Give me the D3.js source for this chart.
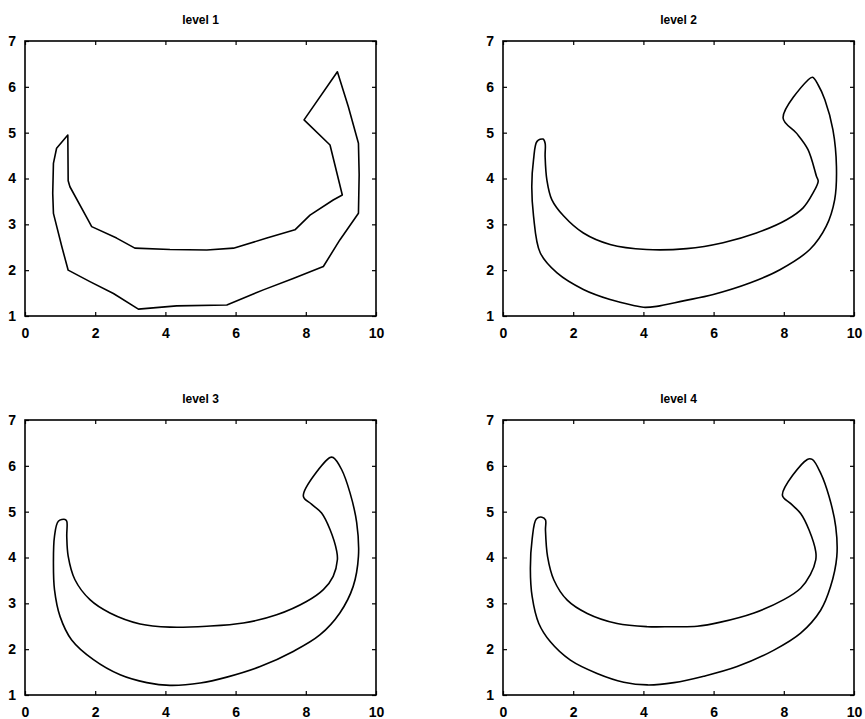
<!DOCTYPE html>
<html>
<head>
<meta charset="utf-8">
<script src="https://cdn.jsdelivr.net/npm/d3@7"></script>
<style>
  body { margin: 0; background: #fff; }
  svg text { font-family: "Liberation Sans", Arial, sans-serif; fill: #000; }
</style>
</head>
<body>
<div id="chart"></div>
<script>
// outline points [x, y], traced clockwise from the left tip
const level1 = [
  [1.22, 4.95], [0.90, 4.66], [0.81, 4.33], [0.79, 3.68], [0.81, 3.24], [1.05, 2.51],
  [1.23, 2.00], [1.85, 1.75], [2.52, 1.49], [3.23, 1.15], [4.32, 1.22], [5.75, 1.24],
  [6.79, 1.57], [7.64, 1.82], [8.50, 2.08], [8.97, 2.66], [9.50, 3.24], [9.52, 4.08],
  [9.50, 4.77], [9.21, 5.57], [8.90, 6.33], [7.95, 5.28], [8.69, 4.73], [9.04, 3.64],
  [8.78, 3.53], [8.12, 3.20], [7.69, 2.88], [6.89, 2.70], [5.94, 2.48], [5.18, 2.44],
  [4.13, 2.45], [3.13, 2.48], [2.61, 2.70], [1.90, 2.95], [1.80, 3.09], [1.28, 3.82],
  [1.23, 3.95]
];
const level2 = [
  [1.14, 4.86], [0.97, 4.81], [0.87, 4.41], [0.82, 3.83], [0.87, 3.18], [1.06, 2.38],
  [1.54, 1.94], [2.29, 1.58], [3.05, 1.36], [3.72, 1.23], [4.00, 1.19], [4.38, 1.21],
  [5.14, 1.33], [5.99, 1.47], [7.03, 1.72], [7.89, 2.01], [8.74, 2.45], [9.21, 2.96],
  [9.45, 3.54], [9.50, 4.26], [9.40, 5.06], [9.17, 5.72], [8.98, 6.04], [8.82, 6.21],
  [8.69, 6.15], [7.98, 5.32], [8.36, 4.99], [8.69, 4.63], [8.93, 4.05], [8.98, 3.94],
  [8.83, 3.68], [8.55, 3.36], [8.08, 3.10], [7.22, 2.81], [6.27, 2.60], [5.23, 2.47],
  [4.09, 2.45], [3.05, 2.56], [2.29, 2.81], [1.73, 3.18], [1.39, 3.54], [1.25, 3.97],
  [1.20, 4.48], [1.20, 4.77]
];
const level3 = [
  [1.14, 4.83], [0.95, 4.79], [0.84, 4.46], [0.81, 3.88], [0.84, 3.30], [1.00, 2.71],
  [1.33, 2.20], [1.95, 1.77], [2.71, 1.44], [3.47, 1.27], [4.13, 1.21], [4.99, 1.26],
  [5.75, 1.39], [6.70, 1.62], [7.64, 1.95], [8.40, 2.31], [8.97, 2.79], [9.35, 3.37],
  [9.50, 4.03], [9.45, 4.76], [9.26, 5.41], [9.02, 5.92], [8.78, 6.18], [8.69, 6.18],
  [7.93, 5.34], [8.17, 5.16], [8.45, 4.97], [8.69, 4.61], [8.88, 4.14], [8.90, 3.95],
  [8.78, 3.59], [8.50, 3.30], [8.02, 3.04], [7.17, 2.75], [6.22, 2.57], [5.18, 2.50],
  [4.13, 2.48], [3.28, 2.55], [2.42, 2.79], [1.85, 3.08], [1.42, 3.52], [1.23, 4.03],
  [1.19, 4.46], [1.19, 4.79]
];
const level4 = [
  [1.11, 4.88], [0.95, 4.84], [0.83, 4.40], [0.78, 3.75], [0.83, 3.15], [1.02, 2.56],
  [1.35, 2.16], [1.92, 1.76], [2.68, 1.47], [3.44, 1.28], [4.11, 1.22], [4.87, 1.27],
  [5.72, 1.41], [6.67, 1.62], [7.72, 1.98], [8.48, 2.35], [9.05, 2.85], [9.33, 3.36],
  [9.51, 4.02], [9.48, 4.67], [9.29, 5.33], [9.05, 5.84], [8.81, 6.14], [8.67, 6.14],
  [7.96, 5.36], [8.19, 5.18], [8.48, 4.96], [8.72, 4.60], [8.91, 4.13], [8.91, 3.95],
  [8.76, 3.63], [8.48, 3.33], [8.00, 3.08], [7.15, 2.79], [6.20, 2.59], [5.53, 2.50],
  [4.80, 2.49], [4.11, 2.49], [3.25, 2.56], [2.40, 2.78], [1.83, 3.07], [1.45, 3.51],
  [1.27, 4.02], [1.21, 4.60], [1.21, 4.82]
];

const titles = ["level 1", "level 2", "level 3", "level 4"];
const xTicks = [0, 2, 4, 6, 8, 10];
const yTicks = [1, 2, 3, 4, 5, 6, 7];

const panels = [
  { title: titles[0], data: level1, curve: d3.curveLinearClosed },
  { title: titles[1], data: level2, curve: d3.curveCatmullRomClosed.alpha(0.5) },
  { title: titles[2], data: level3, curve: d3.curveCatmullRomClosed.alpha(0.5) },
  { title: titles[3], data: level4, curve: d3.curveCatmullRomClosed.alpha(0.5) }
];

// 2x2 grid of axes (matlab subplot layout)
const W = 865, H = 719;
const plotW = 351, plotH = 275;
const lefts = [25, 503];
const tops = [41, 420];
const fmt = d3.format("d");

const svg = d3.select("#chart").append("svg")
  .attr("width", W)
  .attr("height", H);

panels.forEach((p, i) => {
  const g = svg.append("g")
    .attr("transform", `translate(${lefts[i % 2]},${tops[Math.floor(i / 2)]})`);

  const x = d3.scaleLinear().domain([0, 10]).range([0, plotW]);
  const y = d3.scaleLinear().domain([1, 7]).range([plotH, 0]);

  // bottom + left axes with labels, ticks pointing inward
  g.append("g")
    .attr("transform", `translate(0,${plotH})`)
    .call(d3.axisBottom(x).tickValues(xTicks).tickFormat(fmt).tickSizeInner(-4).tickSizeOuter(0).tickPadding(12))
    .call(a => a.select(".domain").remove());
  g.append("g")
    .call(d3.axisLeft(y).tickValues(yTicks).tickFormat(fmt).tickSizeInner(-4).tickSizeOuter(0).tickPadding(9))
    .call(a => a.select(".domain").remove());
  // top + right ticks, no labels
  g.append("g")
    .call(d3.axisTop(x).tickValues(xTicks).tickSizeInner(-4).tickSizeOuter(0).tickFormat(""))
    .call(a => a.select(".domain").remove());
  g.append("g")
    .attr("transform", `translate(${plotW},0)`)
    .call(d3.axisRight(y).tickValues(yTicks).tickSizeInner(-4).tickSizeOuter(0).tickFormat(""))
    .call(a => a.select(".domain").remove());

  g.selectAll(".tick line").attr("stroke", "#000").attr("stroke-width", 1.2);
  g.selectAll(".tick text")
    .attr("font-size", 14)
    .attr("font-weight", "bold")
    .style("font-family", "'Liberation Sans', Arial, sans-serif");

  // frame
  g.append("rect")
    .attr("width", plotW)
    .attr("height", plotH)
    .attr("fill", "none")
    .attr("stroke", "#000")
    .attr("stroke-width", 1.6);

  // outline
  const line = d3.line()
    .x(d => x(d[0]))
    .y(d => y(d[1]))
    .curve(p.curve);
  g.append("path")
    .datum(p.data)
    .attr("d", line)
    .attr("fill", "none")
    .attr("stroke", "#000")
    .attr("stroke-width", 1.6)
    .attr("stroke-linejoin", "round");

  g.append("text")
    .attr("x", plotW / 2)
    .attr("y", -17)
    .attr("text-anchor", "middle")
    .attr("font-size", 12)
    .attr("font-weight", "bold")
    .text(p.title);
});
</script>
</body>
</html>
